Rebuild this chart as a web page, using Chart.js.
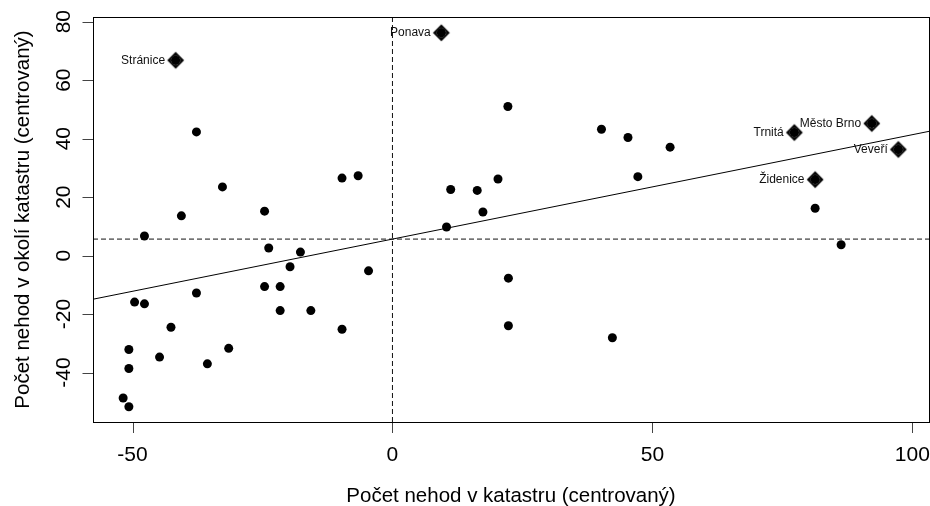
<!DOCTYPE html>
<html><head><meta charset="utf-8">
<style>html,body{margin:0;padding:0;background:#fff;}canvas{display:block;}</style>
<script src="https://cdn.jsdelivr.net/npm/chart.js@4.4.0/dist/chart.umd.min.js"></script>
</head><body>
<canvas id="c" width="930" height="506"></canvas>
<script>
// Unlabelled cadastral areas (centred values)
const pointX = [-37.7, -32.7, -40.6, -24.6, -47.7, -9.7, -6.6, 22.2, 40.2, 45.3, 53.4, 47.2, 11.2, 16.3, 20.3, 17.4, 10.4, 81.3, 86.3, 22.3, 22.3, 42.3, -23.8, -17.7, -19.7, -4.6, -24.6, -21.6, -49.6, -47.7, -37.7, -21.6, -15.7, -42.6, -9.7, -31.5, -50.7, -44.8, -35.6, -50.7, -51.8, -50.7];
const pointY = [42.3, 23.5, 13.6, 15.2, 6.7, 26.5, 27.3, 51.0, 43.2, 40.4, 37.1, 27.0, 22.6, 22.3, 26.2, 14.9, 9.8, 16.2, 3.7, -7.7, -24.0, -28.1, 2.6, 1.2, -3.8, -5.2, -10.6, -10.6, -15.9, -16.5, -12.8, -18.8, -18.8, -24.5, -25.2, -31.7, -32.1, -34.7, -37.0, -38.6, -48.7, -51.7];
// Influential (labelled) areas
const labelNames = ['Stránice', 'Ponava', 'Trnitá', 'Město Brno', 'Veveří', 'Židenice'];
const labelX = [-41.7, 9.4, 77.3, 92.2, 97.3, 81.3];
const labelY = [66.8, 76.2, 42.1, 45.2, 36.3, 26.0];
// Axes
const xTicks = [-50, 0, 50, 100];
const yTicks = [-40, -20, 0, 20, 40, 60, 80];
const xLimits = [-57.6, 103.2];
const yLimits = [-56.9, 81.6];
const meanX = 0;
const meanY = 5.65;
const regIntercept = 5.65;
const regSlope = 0.357;
const xTitle = 'Počet nehod v katastru (centrovaný)';
const yTitle = 'Počet nehod v okolí katastru (centrovaný)';

const FONT = '"Liberation Sans", Arial, sans-serif';

function makeDiamond() {
  const s = 20, c = document.createElement('canvas');
  c.width = s; c.height = s;
  const g = c.getContext('2d'), m = s / 2, r = 7;
  g.strokeStyle = '#000'; g.lineWidth = 2;
  g.beginPath();
  g.moveTo(m, m - r); g.lineTo(m + r, m); g.lineTo(m, m + r); g.lineTo(m - r, m); g.closePath();
  g.stroke();
  g.lineWidth = 1.6;
  g.beginPath();
  g.moveTo(m - r, m); g.lineTo(m + r, m); g.moveTo(m, m - r); g.lineTo(m, m + r);
  g.stroke();
  return c;
}

const allPoints = pointX.map((v, i) => ({x: v, y: pointY[i]}))
  .concat(labelX.map((v, i) => ({x: v, y: labelY[i]})));
const inflPoints = labelX.map((v, i) => ({x: v, y: labelY[i]}));
const regLine = xLimits.map(v => ({x: v, y: regIntercept + regSlope * v}));
const hLine = xLimits.map(v => ({x: v, y: meanY}));
const vLine = yLimits.map(v => ({x: meanX, y: v}));

const decor = {
  id: 'decor',
  afterDraw(chart) {
    const {ctx, chartArea: a, scales: {x, y}} = chart;
    ctx.save();
    ctx.strokeStyle = '#000'; ctx.lineWidth = 1;
    ctx.strokeRect(a.left + 0.5, a.top + 0.5, a.right - a.left, a.bottom - a.top);
    ctx.strokeStyle = '#444';
    ctx.beginPath();
    xTicks.forEach(v => {
      const px = Math.round(x.getPixelForValue(v)) + 0.5;
      ctx.moveTo(px, a.bottom + 1); ctx.lineTo(px, a.bottom + 11);
    });
    yTicks.forEach(v => {
      const py = Math.round(y.getPixelForValue(v)) + 0.5;
      ctx.moveTo(a.left, py); ctx.lineTo(a.left - 10.5, py);
    });
    ctx.stroke();

    ctx.fillStyle = '#000';
    ctx.font = '21px ' + FONT;
    ctx.textAlign = 'center'; ctx.textBaseline = 'alphabetic';
    xTicks.forEach(v => ctx.fillText(String(v), x.getPixelForValue(v), 461));
    yTicks.forEach(v => {
      ctx.save();
      ctx.translate(69.5, y.getPixelForValue(v));
      ctx.rotate(-Math.PI / 2);
      ctx.fillText(String(v), 0, 0);
      ctx.restore();
    });

    ctx.font = '20.5px ' + FONT;
    ctx.fillText(xTitle, (a.left + a.right) / 2, 502);
    ctx.save();
    ctx.translate(29, (a.top + a.bottom) / 2);
    ctx.rotate(-Math.PI / 2);
    ctx.fillText(yTitle, 0, 0);
    ctx.restore();

    ctx.font = '12px ' + FONT;
    ctx.fillStyle = '#111';
    ctx.textAlign = 'right'; ctx.textBaseline = 'middle';
    labelNames.forEach((n, i) => {
      ctx.fillText(n, x.getPixelForValue(labelX[i]) - 10.6, y.getPixelForValue(labelY[i]));
    });
    ctx.restore();
  }
};

new Chart(document.getElementById('c'), {
  type: 'scatter',
  data: {
    datasets: [
      {type: 'scatter', data: allPoints, pointRadius: 4.5, pointHoverRadius: 4.5, backgroundColor: '#000', borderWidth: 0, order: 1},
      {type: 'scatter', data: inflPoints, pointStyle: makeDiamond(), pointRadius: 7, order: 0},
      {type: 'line', data: regLine, borderColor: '#000', borderWidth: 1, pointRadius: 0, fill: false, order: 3},
      {type: 'line', data: hLine, borderColor: '#111', borderWidth: 1, borderDash: [5, 3], pointRadius: 0, fill: false, order: 3},
      {type: 'line', data: vLine, borderColor: '#111', borderWidth: 1, borderDash: [5, 3], pointRadius: 0, fill: false, order: 3}
    ]
  },
  options: {
    responsive: false,
    animation: false,
    devicePixelRatio: 1,
    events: [],
    layout: {padding: {top: 17, right: 1, left: 0, bottom: 0}, autoPadding: false},
    plugins: {legend: {display: false}, tooltip: {enabled: false}},
    scales: {
      x: {
        type: 'linear', min: xLimits[0], max: xLimits[1], offset: false,
        grid: {display: false}, border: {display: false}, ticks: {display: false},
        afterBuildTicks(s) { s.ticks = xTicks.map(v => ({value: v})); },
        afterFit(s) { s.height = 84; s.paddingLeft = 0; s.paddingRight = 0; }
      },
      y: {
        type: 'linear', min: yLimits[0], max: yLimits[1], offset: false,
        grid: {display: false}, border: {display: false}, ticks: {display: false},
        afterBuildTicks(s) { s.ticks = yTicks.map(v => ({value: v})); },
        afterFit(s) { s.width = 93; s.paddingTop = 0; s.paddingBottom = 0; }
      }
    }
  },
  plugins: [decor]
});
</script>
</body></html>
